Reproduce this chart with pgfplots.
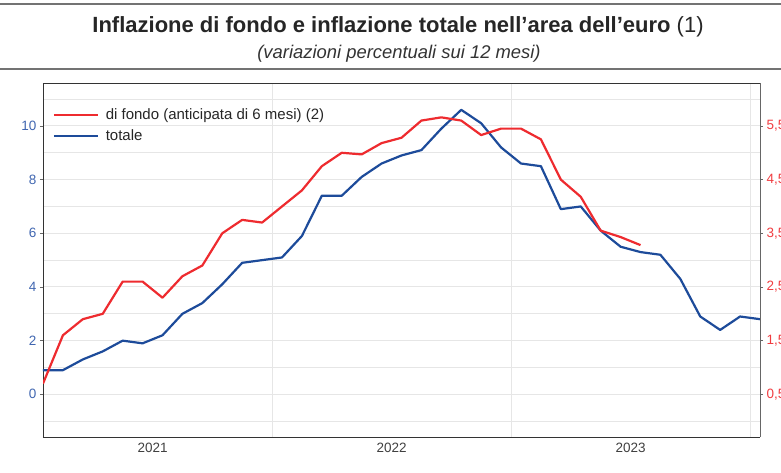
\documentclass[border=0pt]{standalone}
\usepackage{fontspec}
\setmainfont{Liberation Sans}
\usepackage{pgfplots}
\pgfplotsset{compat=1.18}
\definecolor{cred}{HTML}{EE2B2F}
\definecolor{cblue}{HTML}{1D4B9A}
\definecolor{lblue}{HTML}{4066B0}
\definecolor{lred}{HTML}{F03C40}
\definecolor{gridc}{HTML}{E6E6E6}
\definecolor{axc}{HTML}{333333}
\begin{document}
\begin{tikzpicture}[x=1pt,y=1pt]
\useasboundingbox (0,0) rectangle (781,472);
\draw[color=black!55, line width=1.3pt] (0,468) -- (781,468);
\draw[color=black!55, line width=1.3pt] (0,403) -- (781,403);
\node[font=\fontsize{22}{26}\selectfont, text=black!85] at (398,445) {\textbf{Inflazione di fondo e inflazione totale nell’area dell’euro} (1)};
\node[font=\fontsize{18.4}{22}\selectfont\itshape, text=black!80] at (399,418) {(variazioni percentuali sui 12 mesi)};
\begin{axis}[
  at={(43pt,35pt)}, anchor=south west,
  width=717pt, height=354pt, scale only axis,
  xmin=0, xmax=36, ymin=-1.59, ymax=11.6,
  axis line style={draw=axc, line width=0.9pt},
  xtick={5.5,17.5,29.5}, xticklabels={2021,2022,2023},
  minor xtick={11.5,23.5,35.5},
  xminorgrids,
  ytick={0,2,4,6,8,10},
  minor ytick={-1,1,3,5,7,9,11},
  ymajorgrids, yminorgrids,
  grid style={draw=gridc, line width=1pt},
  minor grid style={draw=gridc, line width=1pt},
  major tick length=3pt, minor tick length=0pt,
  tick align=outside,
  xtick style={draw=none},
  ytick style={draw=black!60, line width=0.8pt},
  axis y line*=left,
  xticklabel style={font=\fontsize{13.5}{16}\selectfont, text=black!75},
  yticklabel style={font=\fontsize{13.5}{16}\selectfont, text=lblue},
  /pgf/number format/assume math mode=true,
  legend style={at={(0.009,0.94)}, anchor=north west, draw=none, fill=none,
    font=\fontsize{15}{18}\selectfont, row sep=5pt, text=black!85,
    legend cell align=left},
  legend image code/.code={\path[draw=none,fill=none] (0pt,0pt) -- (50pt,0pt);\draw[#1, line width=2.2pt] (0pt,0pt) -- (44pt,0pt);},
]
\addlegendimage{cred}
\addlegendentry{di fondo (anticipata di 6 mesi) (2)}
\addplot[cblue, line width=2.2pt, line join=round] coordinates {
(0,0.9)(1,0.9)(2,1.3)(3,1.6)(4,2.0)(5,1.9)(6,2.2)(7,3.0)(8,3.4)(9,4.1)(10,4.9)(11,5.0)
(12,5.1)(13,5.9)(14,7.4)(15,7.4)(16,8.1)(17,8.6)(18,8.9)(19,9.1)(20,9.9)(21,10.6)(22,10.1)(23,9.2)
(24,8.6)(25,8.5)(26,6.9)(27,7.0)(28,6.1)(29,5.5)(30,5.3)(31,5.2)(32,4.3)(33,2.9)(34,2.4)(35,2.9)(36,2.8)};
\addlegendentry{totale}
\end{axis}
\begin{axis}[
  at={(43pt,35pt)}, anchor=south west,
  width=717pt, height=354pt, scale only axis,
  xmin=0, xmax=36, ymin=-0.295, ymax=6.3,
  axis x line=none,
  axis y line*=right,
  axis line style={draw=black!60, line width=0.9pt},
  ytick={0.5,1.5,2.5,3.5,4.5,5.5},
  major tick length=3pt, tick align=outside,
  ytick style={draw=black!60, line width=0.8pt},
  yticklabel style={font=\fontsize{13.5}{16}\selectfont, text=lred},
  /pgf/number format/assume math mode=true,
  /pgf/number format/.cd, use comma, fixed, fixed zerofill, precision=1,
]
\addplot[cred, line width=2.2pt, line join=round] coordinates {
(0,0.7)(1,1.6)(2,1.9)(3,2.0)(4,2.6)(5,2.6)(6,2.3)(7,2.7)(8,2.9)(9,3.5)(10,3.75)(11,3.7)
(12,4.0)(13,4.3)(14,4.75)(15,5.0)(16,4.97)(17,5.18)(18,5.28)(19,5.6)(20,5.66)(21,5.6)(22,5.33)(23,5.45)
(24,5.45)(25,5.25)(26,4.5)(27,4.18)(28,3.55)(29,3.43)(30,3.28)};
\end{axis}
\end{tikzpicture}
\end{document}
